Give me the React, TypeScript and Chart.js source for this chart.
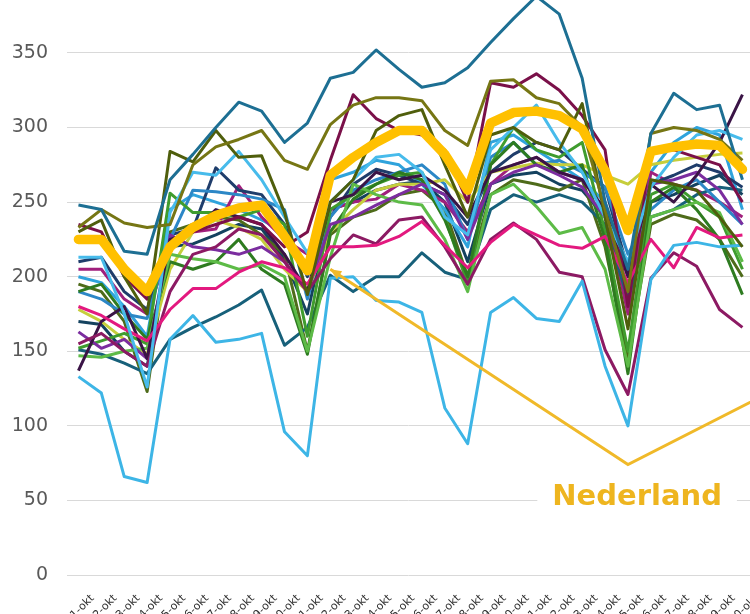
import React, { useEffect, useRef } from 'react';
import { Chart, registerables } from 'chart.js';

Chart.register(...registerables);

// Categories (days of October)
const days = [
  '1-okt', '2-okt', '3-okt', '4-okt', '5-okt', '6-okt', '7-okt', '8-okt', '9-okt', '10-okt',
  '11-okt', '12-okt', '13-okt', '14-okt', '15-okt', '16-okt', '17-okt', '18-okt', '19-okt', '20-okt',
  '21-okt', '22-okt', '23-okt', '24-okt', '25-okt', '26-okt', '27-okt', '28-okt', '29-okt', '30-okt',
  '31-okt',
];

const yTicks = [0, 50, 100, 150, 200, 250, 300, 350];

// Nederland (bold line)
const nederland = [225, 225, 205, 190, 220, 233, 241, 246, 248, 227, 204, 268, 280, 290, 298, 298, 282, 258, 303, 310, 311, 308, 299, 271, 231, 284, 287, 289, 288, 272];

// Callout arrow pointing at the Nederland series (null = no point)
const callout = [null, null, null, null, null, null, null, null, null, null, null, 205, null, null, null, null, null, null, null, null, null, null, null, null, 74, null, null, null, null, null, 121];

// Regional series
const teal = [248, 245, 217, 215, 265, 282, 300, 317, 311, 290, 303, 333, 337, 352, 339, 327, 330, 340, 357, 373, 388, 376, 333, 250, 205, 296, 323, 312, 315, 265];
const oliveLight = [233, 245, 236, 233, 235, 275, 287, 292, 298, 278, 272, 302, 315, 320, 320, 318, 298, 288, 331, 332, 320, 316, 300, 245, 190, 296, 300, 298, 292, 278];
const oliveDark = [230, 238, 200, 175, 284, 277, 298, 280, 281, 243, 188, 250, 265, 298, 308, 312, 275, 240, 295, 300, 290, 285, 316, 240, 165, 265, 262, 258, 240, 220];
const lightBlueLow = [133, 122, 66, 62, 158, 174, 156, 158, 162, 96, 80, 199, 200, 184, 183, 176, 112, 88, 176, 186, 172, 170, 197, 140, 100, 198, 221, 223, 220, 221];
const lightBlueHigh = [213, 213, 175, 126, 243, 270, 268, 284, 265, 240, 216, 250, 265, 280, 282, 270, 240, 228, 285, 300, 315, 290, 270, 240, 210, 260, 280, 295, 298, 292];
const pink = [180, 174, 165, 157, 178, 192, 192, 203, 210, 206, 195, 220, 220, 221, 227, 237, 221, 206, 223, 235, 228, 221, 219, 227, 196, 225, 206, 233, 226, 228];
const plum = [155, 162, 150, 140, 190, 215, 220, 232, 228, 210, 190, 212, 228, 222, 238, 240, 220, 195, 225, 236, 225, 203, 200, 151, 121, 199, 216, 207, 178, 166];
const maroon = [235, 230, 200, 185, 222, 230, 235, 240, 235, 220, 230, 278, 322, 306, 298, 295, 285, 250, 330, 327, 336, 325, 308, 285, 180, 285, 285, 280, 275, 250];
const darkPurple = [137, 170, 180, 145, 225, 230, 245, 240, 235, 215, 190, 250, 255, 270, 265, 268, 258, 240, 270, 275, 280, 270, 265, 245, 200, 262, 250, 268, 290, 322];
const purple = [163, 152, 158, 145, 228, 220, 218, 215, 220, 210, 190, 235, 240, 248, 255, 262, 255, 225, 262, 270, 275, 268, 260, 240, 205, 262, 265, 270, 258, 235];
const lime = [147, 146, 150, 152, 215, 212, 210, 205, 208, 200, 150, 213, 262, 255, 250, 248, 225, 190, 255, 262, 247, 229, 233, 205, 140, 240, 245, 250, 243, 210];
const darkGreen = [190, 195, 175, 158, 210, 205, 210, 225, 205, 195, 148, 230, 252, 262, 270, 265, 238, 200, 275, 290, 275, 270, 275, 225, 135, 250, 260, 245, 225, 188];
const green = [152, 157, 162, 155, 256, 243, 243, 240, 245, 235, 160, 245, 255, 262, 268, 270, 240, 195, 275, 300, 285, 280, 290, 230, 150, 255, 262, 250, 240, 205];
const yellowGreen = [178, 170, 158, 148, 205, 230, 238, 233, 225, 205, 190, 230, 245, 258, 262, 262, 265, 250, 270, 273, 276, 275, 275, 268, 262, 275, 278, 280, 282, 283];
const blue = [190, 185, 175, 172, 225, 258, 257, 255, 252, 245, 185, 240, 258, 265, 270, 275, 262, 225, 280, 290, 275, 278, 270, 260, 215, 245, 258, 265, 250, 235];
const darkTeal = [151, 148, 142, 135, 158, 166, 173, 181, 191, 154, 166, 201, 190, 200, 200, 216, 203, 198, 245, 255, 250, 255, 250, 235, 185, 240, 245, 255, 260, 258];
const navy = [210, 213, 190, 178, 228, 232, 273, 258, 255, 235, 200, 240, 262, 272, 268, 262, 255, 235, 270, 282, 290, 285, 272, 260, 205, 262, 268, 275, 270, 260];
const magenta = [205, 205, 185, 175, 220, 230, 232, 261, 240, 225, 215, 245, 250, 252, 262, 258, 250, 230, 262, 275, 280, 270, 265, 245, 175, 270, 262, 258, 250, 240];
const skyBlue = [200, 196, 180, 160, 245, 255, 250, 245, 238, 230, 205, 265, 270, 278, 275, 262, 245, 220, 290, 295, 285, 275, 265, 250, 200, 270, 290, 300, 295, 245];
const oliveGreen = [195, 190, 170, 123, 230, 235, 240, 238, 228, 215, 150, 228, 240, 245, 255, 258, 245, 200, 255, 265, 262, 258, 265, 220, 145, 235, 242, 238, 225, 200];
const darkBlue = [170, 168, 150, 140, 220, 222, 228, 235, 232, 212, 175, 245, 250, 258, 262, 264, 250, 210, 262, 268, 270, 262, 258, 240, 180, 250, 255, 262, 268, 255];

const regions: { name: string; color: string; values: number[] }[] = [
  { name: 'r1', color: '#1D6F93', values: teal },
  { name: 'r2', color: '#767614', values: oliveLight },
  { name: 'r3', color: '#4F5E0C', values: oliveDark },
  { name: 'r4', color: '#3DB5E6', values: lightBlueLow },
  { name: 'r5', color: '#47BBEB', values: lightBlueHigh },
  { name: 'r6', color: '#E3197F', values: pink },
  { name: 'r7', color: '#8C1A63', values: plum },
  { name: 'r8', color: '#7A1049', values: maroon },
  { name: 'r9', color: '#3A1446', values: darkPurple },
  { name: 'r10', color: '#7B2D9F', values: purple },
  { name: 'r11', color: '#5DBB47', values: lime },
  { name: 'r12', color: '#2E7B20', values: darkGreen },
  { name: 'r13', color: '#3F9C2E', values: green },
  { name: 'r14', color: '#C6CE3C', values: yellowGreen },
  { name: 'r15', color: '#2C87C6', values: blue },
  { name: 'r16', color: '#17607A', values: darkTeal },
  { name: 'r17', color: '#1F3D6B', values: navy },
  { name: 'r18', color: '#A01F7C', values: magenta },
  { name: 'r19', color: '#2FA3DC', values: skyBlue },
  { name: 'r20', color: '#4E6B1A', values: oliveGreen },
  { name: 'r21', color: '#14425F', values: darkBlue },
];

const toPoints = (vals: (number | null)[]) =>
  vals
    .map((v, i) => (v == null ? null : { x: i + 1, y: v }))
    .filter((p) => p !== null) as { x: number; y: number }[];

const NL_COLOR = '#FFC000';
const CALLOUT_COLOR = '#F0B929';
const TEXT_COLOR = '#EEB51F';
const LABEL_TEXT = 'Nederland';

export default function App() {
  const ref = useRef<HTMLCanvasElement>(null);

  useEffect(() => {
    const canvas = ref.current;
    if (!canvas) return;

    const annotPlugin = {
      id: 'annot',
      afterDatasetsDraw(chart: any) {
        const { ctx } = chart;
        const xs = chart.scales.x;
        const ys = chart.scales.y;
        const pts = chart.getDatasetMeta(0).data;
        if (pts.length > 1) {
          const tip = pts[0];
          const from = pts[1];
          const ang = Math.atan2(tip.y - from.y, tip.x - from.x);
          const len = 12;
          ctx.save();
          ctx.fillStyle = CALLOUT_COLOR;
          ctx.beginPath();
          ctx.moveTo(tip.x, tip.y);
          ctx.lineTo(tip.x - len * Math.cos(ang - 0.42), tip.y - len * Math.sin(ang - 0.42));
          ctx.lineTo(tip.x - len * Math.cos(ang + 0.42), tip.y - len * Math.sin(ang + 0.42));
          ctx.closePath();
          ctx.fill();
          ctx.restore();
        }
        ctx.save();
        ctx.font = 'bold 29px "DejaVu Sans"';
        const tx = xs.getPixelForValue(25.4);
        const ty = ys.getPixelForValue(47);
        const w = ctx.measureText(LABEL_TEXT).width;
        ctx.fillStyle = '#ffffff';
        ctx.fillRect(tx - w / 2 - 15, ty - 25, w + 30, 32);
        ctx.fillStyle = TEXT_COLOR;
        ctx.textAlign = 'center';
        ctx.textBaseline = 'alphabetic';
        ctx.fillText(LABEL_TEXT, tx, ty);
        ctx.restore();
      },
    };

    const datasets: any[] = [
      {
        label: 'callout',
        data: toPoints(callout),
        borderColor: CALLOUT_COLOR,
        borderWidth: 3,
        pointRadius: 0,
        tension: 0,
        order: 0,
      },
      {
        label: 'Nederland',
        data: toPoints(nederland),
        borderColor: NL_COLOR,
        borderWidth: 9.5,
        pointRadius: 0,
        tension: 0,
        borderJoinStyle: 'round',
        borderCapStyle: 'round',
        order: 1,
      },
      ...regions.map((r, i) => ({
        label: r.name,
        data: toPoints(r.values),
        borderColor: r.color,
        borderWidth: 3,
        pointRadius: 0,
        tension: 0,
        borderJoinStyle: 'round',
        order: 2 + i,
      })),
    ];

    const chart = new Chart(canvas, {
      type: 'line',
      data: { datasets },
      plugins: [annotPlugin],
      options: {
        animation: false,
        responsive: false,
        devicePixelRatio: 1,
        layout: { padding: 0 },
        plugins: { legend: { display: false }, tooltip: { enabled: false } },
        scales: {
          x: {
            type: 'linear',
            min: 0.5,
            max: 30.33,
            grid: { display: false, drawTicks: false },
            border: { display: false },
            ticks: {
              stepSize: 1,
              autoSkip: false,
              includeBounds: false,
              maxRotation: 45,
              minRotation: 45,
              labelOffset: 14,
              padding: 17,
              color: '#2E2E2E',
              font: { family: 'DejaVu Sans', size: 11 },
              callback: (v: any) => days[Number(v) - 1] ?? '',
            },
            afterFit: (s: any) => {
              s.height = 50;
              s.paddingLeft = 0;
              s.paddingRight = 0;
            },
          },
          y: {
            min: 0,
            max: 385.5,
            grid: { color: '#D9D9D9', lineWidth: 1, drawTicks: false },
            border: { display: false },
            ticks: {
              includeBounds: false,
              stepSize: 50,
              padding: 19,
              color: '#595959',
              font: { family: 'DejaVu Sans', size: 19 },
            },
            afterBuildTicks: (s: any) => {
              s.ticks = yTicks.map((v) => ({ value: v }));
            },
            afterFit: (s: any) => {
              s.width = 67;
              s.paddingTop = 0;
              s.paddingBottom = 0;
            },
          },
        },
      },
    });

    return () => chart.destroy();
  }, []);

  return (
    <div
      style={{
        position: 'fixed',
        left: 0,
        top: 0,
        width: 750,
        height: 614,
        overflow: 'hidden',
        background: '#ffffff',
      }}
    >
      <canvas ref={ref} width={750} height={625} style={{ display: 'block' }} />
    </div>
  );
}
